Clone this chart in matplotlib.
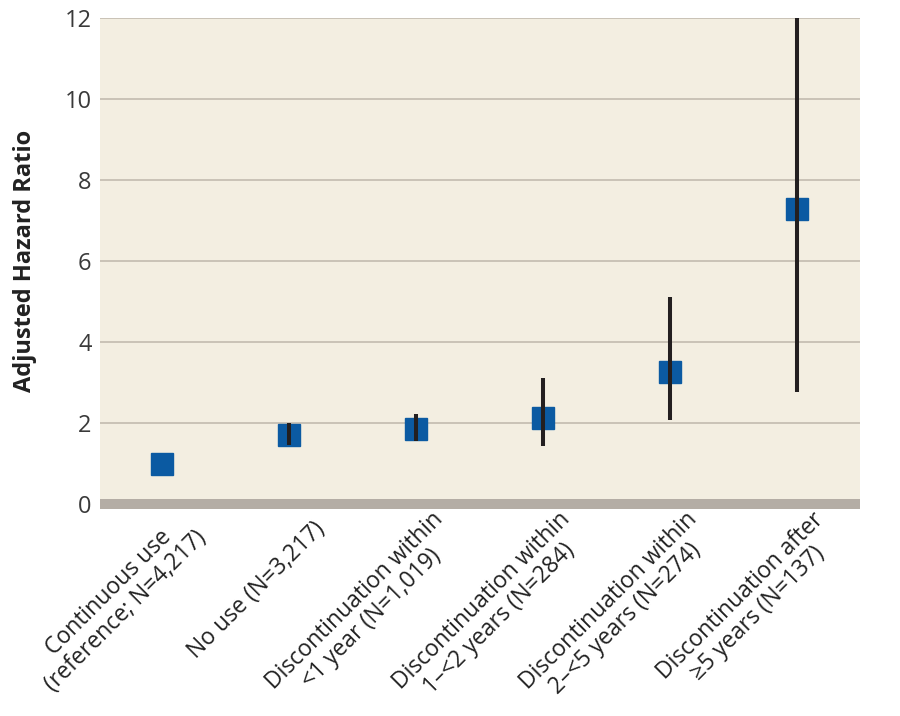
import numpy as np
import matplotlib
matplotlib.use('Agg')
import matplotlib.pyplot as plt
import matplotlib.transforms as mtransforms

plt.rcParams['font.family'] = ['Open Sans', 'DejaVu Sans']

# groups and adjusted hazard ratios with 95% CI
groups = [
    'Continuous use\n(reference; N=4,217)',
    'No use (N=3,217)',
    'Discontinuation within\n<1 year (N=1,019)',
    'Discontinuation within\n1\u2013<2 years (N=284)',
    'Discontinuation within\n2\u2013<5 years (N=274)',
    'Discontinuation after\n\u22655 years (N=137)',
]
hr = [1.0, 1.70, 1.85, 2.12, 3.25, 7.28]
ci_low = [1.0, 1.45, 1.56, 1.43, 2.07, 2.77]
ci_high = [1.0, 2.00, 2.22, 3.11, 5.10, 12.0]
yticks = [0, 2, 4, 6, 8, 10, 12]

fig = plt.figure(figsize=(9, 7.16), dpi=100)
ax = fig.add_axes([0.111, 0.296, 0.845, 0.679])
ax.set_facecolor('#f3eee1')

x = np.arange(len(groups))
hr = np.array(hr)
err = np.array([hr - np.array(ci_low), np.array(ci_high) - hr])

ax.plot(x, hr, linestyle='none', marker='s', markersize=16,
        color='#0b5aa2', zorder=3)
ax.errorbar(x, hr, yerr=err, fmt='none', ecolor='#231f20',
            elinewidth=2.9, capsize=0, zorder=4)

for t in yticks[1:]:
    ax.axhline(t, color='#c6bfb3', linewidth=1.3, zorder=1)
ax.axhline(0, color='#b4ada5', linewidth=7.2, zorder=2, clip_on=False,
           solid_capstyle='butt')

ax.set_xlim(-0.49, 5.5)
ax.set_ylim(0, 12)
ax.set_yticks(yticks)
ax.set_yticklabels([str(t) for t in yticks], fontsize=17, color='#3a3a3a')
ax.set_xticks(x)
ax.set_xticklabels([])
ax.tick_params(axis='both', length=0)
ax.tick_params(axis='y', pad=6)

# rotated category labels, anchored a little right of each position
trans = ax.get_xaxis_transform() + mtransforms.ScaledTranslation(
    32 / 100, -21 / 100, fig.dpi_scale_trans)
for xi, lab in zip(x, groups):
    ax.text(xi, 0, lab, transform=trans, rotation=45, ha='right', va='center',
            rotation_mode='anchor', multialignment='center', fontsize=16.5,
            linespacing=1.05, color='#222222')

ax.set_ylabel('Adjusted Hazard Ratio', fontsize=17, fontweight='bold',
              color='#222222', labelpad=20)

for s in ax.spines.values():
    s.set_visible(False)

fig.savefig('out.png', dpi=100, facecolor='white')
